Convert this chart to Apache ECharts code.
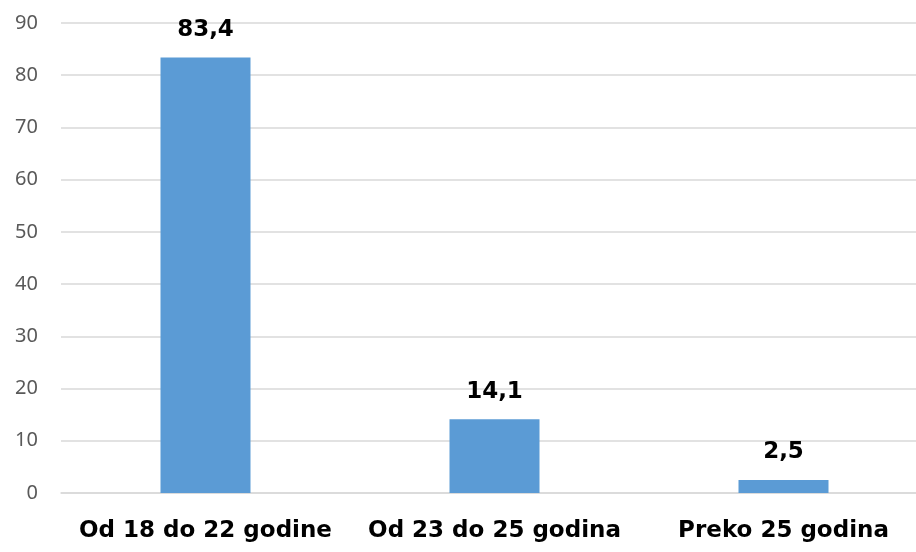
<!DOCTYPE html>
<html>
<head>
<meta charset="utf-8">
<script src="https://cdn.jsdelivr.net/npm/echarts@6/dist/echarts.min.js"></script>
<style>
  html, body { margin: 0; padding: 0; background: #fff; overflow: hidden; }
  /* plot area runs past the right edge in the reference, so the canvas is a bit wider than the window */
  #chart { width: 928px; height: 552px; }
</style>
</head>
<body>
<div id="chart"></div>
<script>
const categories = ['Od 18 do 22 godine', 'Od 23 do 25 godina', 'Preko 25 godina']
const values = [83.4, 14.1, 2.5]

const chart = echarts.init(document.getElementById('chart'))

chart.setOption({
  animation: false,
  grid: { left: 61, right: 0, top: 23, bottom: 59 },
  xAxis: {
    type: 'category',
    data: categories,
    axisLine: { lineStyle: { color: '#d9d9d9', width: 1.5 } },
    axisTick: { show: false },
    axisLabel: {
      color: '#000',
      fontFamily: 'DejaVu Sans',
      fontWeight: 'bold',
      fontSize: 23,
      margin: 27,
      interval: 0
    }
  },
  yAxis: {
    type: 'value',
    min: 0,
    max: 90,
    interval: 10,
    axisLine: { show: false },
    axisTick: { show: false },
    splitLine: { lineStyle: { color: '#d9d9d9', width: 1.5 } },
    axisLabel: {
      color: '#595959',
      fontFamily: 'Noto Sans',
      fontSize: 20,
      margin: 23
    }
  },
  series: [
    {
      type: 'bar',
      data: values,
      barWidth: 90,
      itemStyle: { color: '#5b9bd5' },
      label: {
        show: true,
        position: 'top',
        distance: 16,
        color: '#000',
        fontFamily: 'DejaVu Sans',
        fontWeight: 'bold',
        fontSize: 23,
        formatter: p => String(p.value).replace('.', ',')
      }
    }
  ]
})
</script>
</body>
</html>
